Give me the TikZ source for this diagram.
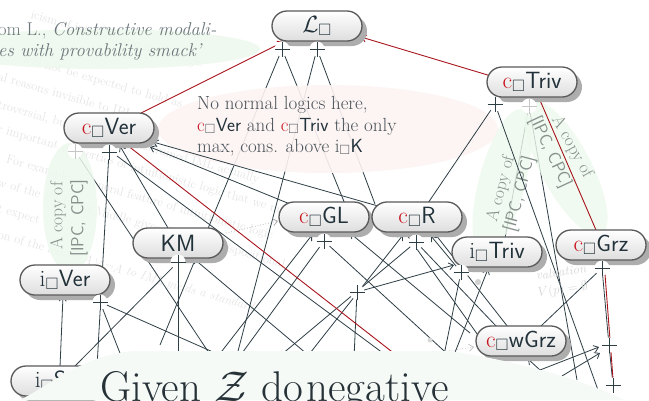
\RequirePackage{fix-cm}
\documentclass[tikz,border=0pt]{standalone}
\usepackage{amssymb}
\usetikzlibrary{arrows.meta,shadows,shapes.geometric}
\definecolor{linec}{HTML}{2E3E45}
\definecolor{redl}{HTML}{A8141C}
\definecolor{redt}{HTML}{C8141E}
\definecolor{nodeb}{HTML}{5A5A5A}
\definecolor{nodet}{HTML}{22323A}
\definecolor{greenbg}{HTML}{EDF9ED}
\definecolor{pinkbg}{HTML}{FDF3F3}
\definecolor{graytext}{HTML}{6C777C}
\definecolor{copyt}{HTML}{86908C}
\definecolor{panelc}{HTML}{F6FAF7}
\definecolor{bigt}{HTML}{263238}
\definecolor{ptext}{HTML}{4A5358}
\newcommand{\myc}{{\color{redt}c}$_\Box$}
\newcommand{\myi}{i$_\Box$}
\begin{document}
\begin{tikzpicture}[x=1pt,y=-1pt,
  ln/.style={draw=linec,line width=0.8pt},
  fl/.style={draw=linec,line width=0.8pt},
  rl/.style={draw=redl,line width=0.9pt},
  ar/.style={-{Straight Barb[length=4.5pt,width=7pt]}},
  lbox/.style={rectangle,rounded corners=15pt,minimum width=90pt,minimum height=30pt,inner sep=0pt,
    draw=nodeb,line width=1.3pt,top color=white,bottom color=black!13,
    drop shadow={shadow xshift=5pt,shadow yshift=-5pt,fill=black!32,opacity=1},
    text=nodet,font=\fontsize{23.5}{27}\selectfont},
  copytxt/.style={text=copyt,font=\fontsize{17.5}{20}\selectfont,inner sep=0pt},
  ptxt/.style={text=ptext,font=\fontsize{19}{22}\selectfont,inner sep=0pt,anchor=base west},
  pics/plusmk/.style={code={\fill[white] (0,0) circle[radius=7.5pt];
     \draw[line width=1pt,#1] (-7.5pt,0)--(7.5pt,0) (0,-7.5pt)--(0,7.5pt);}},
]
\useasboundingbox (0,0) rectangle (649,400);
\clip (0,0) rectangle (649,400);
\fill[white] (0,0) rectangle (649,400);

% ---------- coordinates ----------
\coordinate (pL1) at (282,49);
\coordinate (pL2) at (317,49);
\coordinate (pT1) at (495,104);
\coordinate (pT2) at (529,106);
\coordinate (pV1) at (75,151);
\coordinate (pV2) at (109,152);
\coordinate (pKM) at (178,262);
\coordinate (pGL) at (324,241);
\coordinate (pR) at (416,242);
\coordinate (piT) at (461,272);
\coordinate (pG1) at (602,268);
\coordinate (pG2) at (609,345);
\coordinate (pG3) at (613,385);
\coordinate (piV) at (100,302);
\coordinate (pX) at (357,292);

\coordinate (eA1) at (160,345);
\coordinate (eA2) at (345,204);
\coordinate (eA3) at (237,355);
\coordinate (eA4) at (375,204);
\coordinate (eB1) at (215,362);
\coordinate (eB2) at (577,380);
\coordinate (eB3) at (505,238);
\coordinate (tVerTR) at (141,113);
\coordinate (tLbl) at (283,42);
\coordinate (tTrivL) at (491,76);
\coordinate (tLr) at (361,37);
\coordinate (tTrivB) at (539,98);
\coordinate (tGrzT) at (596,230);
\coordinate (tVerB) at (127,145);
\coordinate (eR4) at (400,358);
\coordinate (tGrzB) at (604,261);
\coordinate (eR5) at (614,392);
\coordinate (tiSTR) at (97,367);
\coordinate (tKMt) at (168,228);
\coordinate (aVer1) at (120,146);
\coordinate (sC3) at (117,156);
\coordinate (eC3) at (395,362);
\coordinate (tRtl) at (378,206);
\coordinate (aVer2) at (153,142);
\coordinate (tGLtl) at (290,204);
\coordinate (aVer3) at (150,147);
\coordinate (tRt) at (428,203);
\coordinate (eC7) at (598,390);
\coordinate (eC8) at (178,365);
\coordinate (tiSt) at (75,366);
\coordinate (sC10) at (320,365);
\coordinate (aKM) at (193,258);
\coordinate (eC11) at (125,366);
\coordinate (eC12) at (222,356);
\coordinate (tiSt2) at (60,367);
\coordinate (aiVer) at (63,296);
\coordinate (eC14) at (237,360);
\coordinate (eC15) at (454,360);
\coordinate (sC16) at (215,360);
\coordinate (aGL1) at (312,235);
\coordinate (sC17) at (470,333);
\coordinate (aGL2) at (350,233);
\coordinate (sC18) at (303,362);
\coordinate (aR1) at (403,235);
\coordinate (aR2) at (431,236);
\coordinate (eC20) at (275,360);
\coordinate (twGt) at (497,327);
\coordinate (eC22) at (354,358);
\coordinate (aiT1) at (454,265);
\coordinate (twGtr) at (541,326);
\coordinate (sC25) at (540,370);
\coordinate (sC26) at (562,376);
\coordinate (aG2a) at (599,347);
\coordinate (aG2b) at (600,353);
\coordinate (awG) at (528,359);
\coordinate (sC27) at (432,230);
\coordinate (twGt2) at (508,327);
\coordinate (sC28) at (402,228);
\coordinate (eC28) at (497,362);
\coordinate (eC29) at (443,360);
\coordinate (sC30) at (452,360);
\coordinate (aiT2) at (488,269);
\coordinate (dt1) at (226,233);
\coordinate (dt2) at (278,221);
\coordinate (dt3) at (441,352);
\coordinate (dt4) at (474,347);

% ---------- faint background text ----------
\begin{scope}[every node/.style={text=black!10,font=\fontsize{12.5}{15}\selectfont,anchor=base west,inner sep=0pt,rotate=-16}]
\node (bg0) at (30,18) {icism of intuitionistic modal logic};
\node (bg1) at (22,62) {will not be expected to hold as};
\node (bg2) at (-3,80) {al reasons invisible to IPL};
\node (bg3) at (-3,108) {troversial, but a suitably constrained IML actually};
\node (bg4) at (-3,132) {r important properties of intuitionistic logic that we might};
\node (bg5) at (-3,160) {. For example, a general feature of intuitionistic logic};
\node (bg6) at (-3,186) {w of the Excluded Middle gives rise to the dispositional};
\node (bg7) at (-3,212) {t expect};
\node (bg8) at (-3,238) {on of the axiom \textit{$A\vee\neg A$ to IML yields a standard}};
\end{scope}

% ---------- top-left note ----------
\fill[greenbg,fill opacity=0.85] (100,49) ellipse [x radius=160pt, y radius=20pt];
\node[anchor=base west,inner sep=0pt,text=graytext,font=\fontsize{18.5}{21}\selectfont] (tl1) at (-2,35) {om L., \textit{Constructive modali-}};
\node[anchor=base west,inner sep=0pt,text=graytext,font=\fontsize{18.5}{21}\selectfont] (tl2) at (-2,56) {\textit{es with provability smack'}};

% ---------- lines under the pink note ----------
\draw[ln] (pL1) -- (eA1);
\draw[ln] (pL1) -- (eA2);
\draw[ln] (pL2) -- (eA3);
\draw[ln] (pL2) -- (eA4);

\fill[pinkbg,fill opacity=0.9] (328,129) ellipse [x radius=170pt, y radius=44pt];
\node[ptxt] (n1) at (197,109) {No normal logics here,};
\node[ptxt] (n2) at (197,131) {\myc\textsf{\color{nodet}Ver} and \myc\textsf{\color{nodet}Triv} the only};
\node[ptxt] (n3) at (197,152) {max, cons. above \myi\textsf{\color{nodet}K}};

% ---------- lines under the green copies ----------
\draw[fl] (pV1) -- (eB1);
\draw[fl] (pT2) -- (eB2);
\draw[fl] (pT2) -- (eB3);

\node[ellipse,fill=greenbg,fill opacity=0.85,minimum width=54pt,minimum height=130pt,inner sep=0pt] (gl) at (70,208) {};
\node[ellipse,fill=greenbg,fill opacity=0.8,minimum width=150pt,minimum height=46pt,inner sep=0pt,rotate=75] (ga) at (502,182) {};
\node[ellipse,fill=greenbg,fill opacity=0.8,minimum width=150pt,minimum height=50pt,inner sep=0pt,rotate=-62] (gb) at (566,168) {};
\node[copytxt,rotate=90] (cl1) at (58,216) {A copy of};
\node[copytxt,rotate=90] (cl2) at (79,218) {\textsf{[IPC, CPC]}};
\node[copytxt,rotate=75] (ca1) at (501,189) {A copy of};
\node[copytxt,rotate=75] (ca2) at (520,194) {\textsf{[IPC, CPC]}};
\node[copytxt,rotate=-61] (cb1) at (572,147) {A copy of};
\node[copytxt,rotate=-65] (cb2) at (550,152) {\textsf{[IPC, CPC]}};

% ---------- main connectors ----------
\draw[ln] (pV2) -- (tiSTR);
\draw[ln,ar] (tKMt) -- (aVer1);
\draw[ln] (sC3) -- (eC3);
\draw[ln,ar] (tRtl) -- (aVer2);
\draw[ln,ar] (tGLtl) -- (aVer3);
\draw[ln] (pT1) -- (tRt);
\draw[ln] (pT1) -- (eC7);
\draw[ln] (pKM) -- (eC8);
\draw[ln] (pKM) -- (tiSt);
\draw[ln,ar] (sC10) -- (aKM);
\draw[ln] (piV) -- (eC11);
\draw[ln] (piV) -- (eC12);
\draw[ln,ar] (tiSt2) -- (aiVer);
\draw[ln] (pGL) -- (eC14);
\draw[ln] (pGL) -- (eC15);
\draw[ln,ar] (sC16) -- (aGL1);
\draw[ln,ar] (sC17) -- (aGL2);
\draw[ln,ar] (sC18) -- (aR1);
\draw[ln,ar] (piT) -- (aR2);
\draw[ln] (pR) -- (eC20);
\draw[ln] (pR) -- (twGt);
\draw[ln] (pX) -- (eC22);
\draw[ln,ar] (pX) -- (aiT1);
\draw[ln] (twGtr) -- (pG1);
\draw[ln,ar] (sC25) -- (aG2a);
\draw[ln,ar] (sC26) -- (aG2b);
\draw[ln,ar] (sC25) -- (awG);
\draw[ln] (sC27) -- (twGt2);
\draw[ln] (sC28) -- (eC28);
\draw[ln] (piT) -- (eC29);
\draw[ln,ar] (sC30) -- (aiT2);
\draw[ln] (pG1) -- (pG2) -- (pG3);
\draw[black!35,line width=0.7pt,dotted,ar] (dt1) -- (dt2);
\draw[black!25,line width=0.7pt,dotted,ar] (dt3) -- (dt4);

% red connectors
\draw[rl,ar] (tVerTR) -- (tLbl);
\draw[rl,ar] (tTrivL) -- (tLr);
\draw[rl] (tTrivB) -- (tGrzT);
\draw[rl] (tVerB) -- (eR4);
\draw[rl] (tGrzB) -- (eR5);

% ---------- nodes ----------
\node[lbox] (L) at (317,26) {$\mathcal{L}_\Box$};
\node[lbox] (cTriv) at (532,82) {\myc\textsf{Triv}};
\node[lbox] (cVer) at (109,128) {\myc\textsf{Ver}};
\node[lbox] (KM) at (178,243) {\textsf{KM}};
\node[lbox] (cGL) at (324,217) {\myc\textsf{GL}};
\node[lbox] (cR) at (417,217) {\myc\textsf{R}};
\node[lbox] (iTriv) at (497,252) {\myi\textsf{Triv}};
\node[lbox] (cGrz) at (601,245) {\myc\textsf{Grz}};
\node[lbox] (cwGrz) at (521,341) {\myc\textsf{wGrz}};
\node[lbox] (iVer) at (65,280) {\myi\textsf{Ver}};
\node[lbox] (iS) at (56,381) {\myi\textsf{S4}};

% ---------- join marks ----------
\foreach \p in {pL1,pL2,pT1,pV2,pKM,pGL,pR,piT,pG1,pG2,pG3,piV,pX}
  \pic at (\p) {plusmk=linec};
\pic at (pV1) {plusmk=black!22};
\pic at (pT2) {plusmk=black!22};

% faint leftovers
\node[text=black!16,font=\itshape\fontsize{13}{15}\selectfont,rotate=8,inner sep=0pt] (val1) at (561,272) {valuation};
\node[text=black!16,font=\fontsize{13}{15}\selectfont,rotate=8,inner sep=0pt] (val2) at (563,290) {$V(p)=\emptyset$};
\fill[black!18] (478,282) circle[radius=3pt];
\fill[black!15] (430,340) circle[radius=2.5pt];

% ---------- bottom panel ----------
\fill[panelc] (20,400) .. controls (50,385) and (85,354) .. (135,351) -- (450,351)
   .. controls (510,360) and (580,378) .. (624,400) -- cycle;
\node[anchor=base west,inner sep=0pt,text=bigt,font=\fontsize{43}{48}\selectfont] (big) at (100,401)
   {Given $\mathcal{Z}$ {\spaceskip=3pt do negative}};
\end{tikzpicture}
\end{document}
